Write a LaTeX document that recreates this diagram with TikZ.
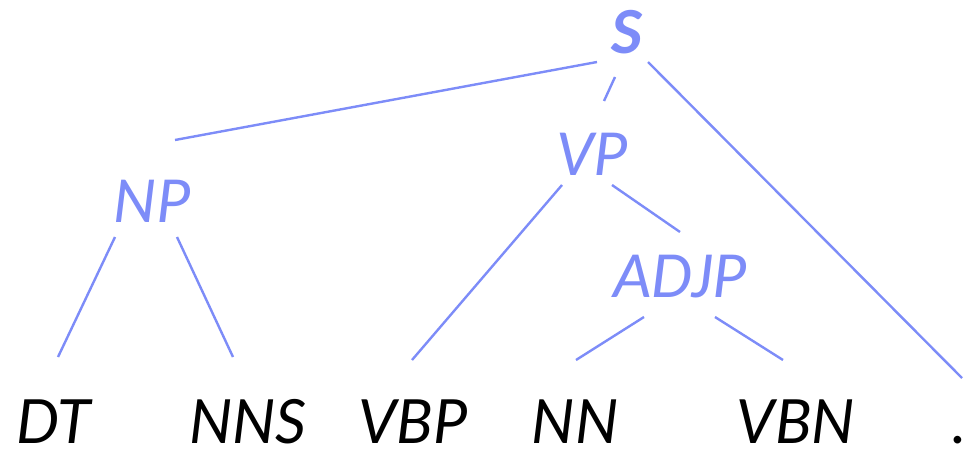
\documentclass[tikz,border=0pt]{standalone}
\usepackage{fontspec}
\setmainfont{Lato}
\newfontfamily\bluefont{Carlito}
\definecolor{treeblue}{HTML}{7D8CF8}
\begin{document}
\begin{tikzpicture}[x=1pt,y=-1pt,
  cat/.style={text=treeblue,font=\bluefont\fontsize{66}{66}\selectfont\itshape,anchor=base,inner sep=0pt},
  leaf/.style={text=black,font=\fontsize{61}{61}\selectfont\itshape,anchor=base,inner sep=0pt,text depth=0pt},
  edge/.style={draw=treeblue,line width=2.4pt}]
\useasboundingbox (0,0) rectangle (965,450);
% phrase labels
\node[cat,font=\bluefont\fontsize{66}{66}\selectfont\bfseries\itshape] (S) at (627,53) {S};
\node[cat] (VP) at (592,175) {VP};
\node[cat] (NP) at (152,222) {NP};
\node[cat] (ADJP) at (680,297) {ADJP};
% leaves
\node[leaf] (DT) at (54,443) {DT};
\node[leaf] (NNS) at (248,443) {NNS};
\node[leaf] (VBP) at (413,443) {VBP};
\node[leaf] (NN) at (575,443) {NN};
\node[leaf] (VBN) at (796,443) {VBN};
\node[leaf] (DOT) at (960,443) {.};
% edge end points
\coordinate (s1) at (597,62);  \coordinate (np0) at (175,140);
\coordinate (s2) at (615,77);  \coordinate (vp0) at (604,101);
\coordinate (s3) at (648,62);  \coordinate (dot0) at (962,378);
\coordinate (vp1) at (562,185); \coordinate (vbp0) at (412,360);
\coordinate (vp2) at (612,185); \coordinate (adjp0) at (680,232);
\coordinate (np1) at (115,237); \coordinate (dt0) at (58,357);
\coordinate (np2) at (177,237); \coordinate (nns0) at (233,357);
\coordinate (adjp1) at (644,317); \coordinate (nn0) at (576,360);
\coordinate (adjp2) at (715,317); \coordinate (vbn0) at (783,360);
% connectors
\draw[edge] (s1) -- (np0);
\draw[edge] (s2) -- (vp0);
\draw[edge] (s3) -- (dot0);
\draw[edge] (vp1) -- (vbp0);
\draw[edge] (vp2) -- (adjp0);
\draw[edge] (np1) -- (dt0);
\draw[edge] (np2) -- (nns0);
\draw[edge] (adjp1) -- (nn0);
\draw[edge] (adjp2) -- (vbn0);
\end{tikzpicture}
\end{document}
